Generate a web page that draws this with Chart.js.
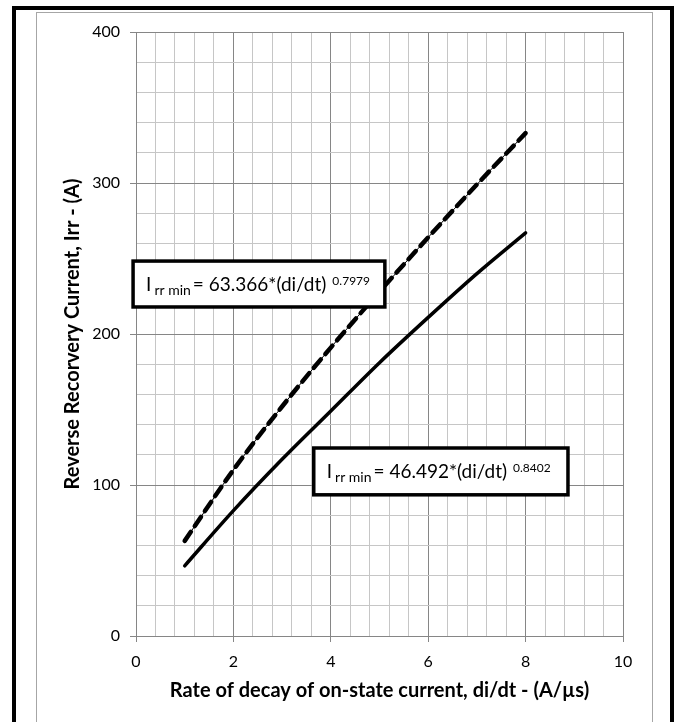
<!DOCTYPE html>
<html>
<head>
<meta charset="utf-8">
<script src="https://cdn.jsdelivr.net/npm/chart.js@4.4.1/dist/chart.umd.min.js"></script>
<style>
    html, body { margin: 0; padding: 0; background: #fff; }
    #cadre { position: absolute; left: 0; top: 0; width: 678px; height: 722px; overflow: hidden; }
    #bordNoir { position: absolute; left: 12px; top: 6px; width: 654px; height: 800px; border: 4px solid #000; border-bottom: none; }
    #bordGris { position: absolute; left: 36px; top: 12px; width: 615px; height: 800px; border: 1px solid #a6a6a6; border-bottom: none; }
    #graph { position: absolute; left: 0; top: 0; }
</style>
</head>
<body>
<div id="cadre">
    <div id="bordNoir"></div>
    <div id="bordGris"></div>
    <canvas id="graph" width="678" height="722"></canvas>
</div>
<script>
// Valeurs
var diDt = [1, 2, 3, 4, 5, 6, 7, 8];
var irrMinSolid = [46.5, 83, 117, 149, 181, 211, 240, 267];
var irrMinDashed = [63, 110, 152, 191, 228, 264, 299, 333];

var xTitle = 'Rate of decay of on-state current, di/dt - (A/\u00b5s)';
var yTitle = 'Reverse Recorvery Current, Irr - (A)';

// Encadres des equations (coordonnees en unites des axes)
var equationBoxes = [
    { x0: -0.06, x1: 5.11, y0: 248.3, y1: 217.9, coef: '= 63.366*(di/dt)', expo: '0.7979' },
    { x0: 3.65, x1: 8.87, y0: 124.5, y1: 93.5, coef: '= 46.492*(di/dt)', expo: '0.8402' }
];

var police = 'Lato, "Open Sans", sans-serif';

function toPoints(xs, ys) {
    var pts = [];
    for (var i = 0; i < xs.length; i++) {
        pts.push({ x: xs[i], y: ys[i] });
    }
    return pts;
}

function isMajor(v, step) {
    var r = v / step;
    return Math.abs(r - Math.round(r)) < 1e-6;
}

// Plugin pour dessiner les encadres avec indices et exposants
var boxPlugin = {
    id: 'equationBoxes',
    afterDatasetsDraw: function(chart) {
        var ctx = chart.ctx;
        var xs = chart.scales.x;
        var ys = chart.scales.y;
        ctx.save();
        equationBoxes.forEach(function(b) {
            var left = xs.getPixelForValue(b.x0);
            var right = xs.getPixelForValue(b.x1);
            var top = ys.getPixelForValue(b.y0);
            var bottom = ys.getPixelForValue(b.y1);
            ctx.fillStyle = '#fff';
            ctx.fillRect(left, top, right - left, bottom - top);
            ctx.lineWidth = 3.5;
            ctx.strokeStyle = '#000';
            ctx.strokeRect(left, top, right - left, bottom - top);

            var base = (top + bottom) / 2 + 7;
            var x = left + 13;
            ctx.fillStyle = '#000';
            ctx.textBaseline = 'alphabetic';
            ctx.textAlign = 'left';
            ctx.font = '19px ' + police;
            ctx.fillText('I', x, base);
            x += ctx.measureText('I').width + 3;
            ctx.font = '14px ' + police;
            ctx.fillText('rr min', x, base + 4);
            x += ctx.measureText('rr min').width + 2;
            ctx.font = '19px ' + police;
            ctx.fillText(b.coef, x, base);
            x += ctx.measureText(b.coef).width + 6;
            ctx.font = '12px ' + police;
            ctx.fillText(b.expo, x, base - 6);
        });
        ctx.restore();
    }
};

var ctx = document.getElementById('graph').getContext('2d');
window.myChart = new Chart(ctx, {
    type: 'line',
    data: {
        datasets: [{
            data: toPoints(diDt, irrMinDashed),
            borderColor: '#000',
            borderWidth: 1,
            cubicInterpolationMode: 'monotone',
            pointRadius: 0,
            fill: false
        }, {
            data: toPoints(diDt, irrMinDashed),
            borderColor: '#000',
            borderWidth: 4.5,
            borderDash: [11, 7],
            borderCapStyle: 'round',
            cubicInterpolationMode: 'monotone',
            pointRadius: 0,
            fill: false
        }, {
            data: toPoints(diDt, irrMinSolid),
            borderColor: '#000',
            borderWidth: 3.5,
            borderCapStyle: 'round',
            cubicInterpolationMode: 'monotone',
            pointRadius: 0,
            fill: false
        }]
    },
    options: {
        responsive: false,
        animation: false,
        layout: { padding: { left: 57, right: 55, top: 32, bottom: 15 } },
        plugins: {
            legend: { display: false },
            tooltip: { enabled: false }
        },
        scales: {
            x: {
                type: 'linear',
                min: 0,
                max: 10,
                afterFit: function(scale) { scale.height = 71; },
                ticks: {
                    stepSize: 0.4,
                    autoSkip: false,
                    maxRotation: 0,
                    padding: 10,
                    color: '#000',
                    font: { family: police, size: 16 },
                    callback: function(v) { return isMajor(v, 2) ? Math.round(v) : ''; }
                },
                grid: {
                    color: function(c) { return isMajor(c.tick.value, 2) ? '#868686' : '#c6c6c6'; },
                    tickColor: function(c) { return isMajor(c.tick.value, 2) ? '#868686' : 'rgba(0,0,0,0)'; },
                    tickLength: 6
                },
                border: { color: '#868686' },
                title: {
                    display: true,
                    text: xTitle,
                    color: '#000',
                    font: { family: police, size: 20, weight: 'bold' }
                }
            },
            y: {
                min: 0,
                max: 400,
                afterFit: function(scale) { scale.width = 79; },
                ticks: {
                    stepSize: 20,
                    autoSkip: false,
                    padding: 10,
                    color: '#000',
                    font: { family: police, size: 16 },
                    callback: function(v) { return isMajor(v, 100) ? v : ''; }
                },
                grid: {
                    color: function(c) { return isMajor(c.tick.value, 100) ? '#868686' : '#c6c6c6'; },
                    tickColor: function(c) { return isMajor(c.tick.value, 100) ? '#868686' : 'rgba(0,0,0,0)'; },
                    tickLength: 6
                },
                border: { color: '#868686' },
                title: {
                    display: true,
                    text: yTitle,
                    color: '#000',
                    font: { family: police, size: 20, weight: 'bold' }
                }
            }
        }
    },
    plugins: [boxPlugin]
});
</script>
</body>
</html>
